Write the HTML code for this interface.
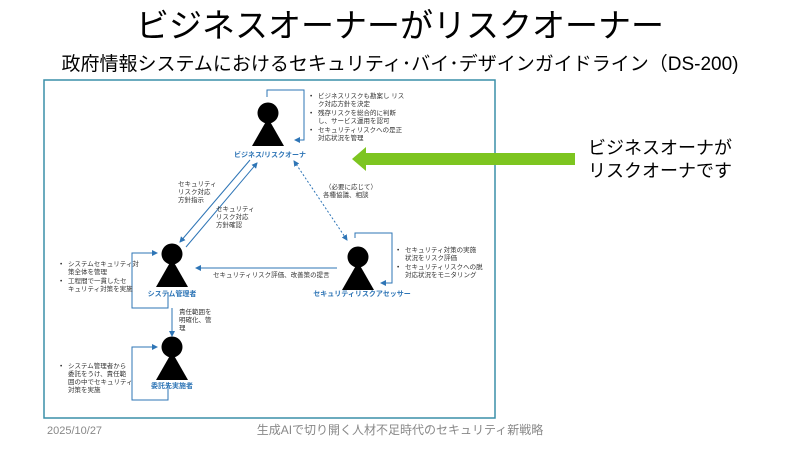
<!DOCTYPE html>
<html><head><meta charset="utf-8"><style>
html,body{margin:0;padding:0;background:#fff;width:800px;height:450px;overflow:hidden}
svg{display:block}
text{font-family:"Liberation Sans","Noto Sans CJK JP",sans-serif}
</style></head><body>
<svg width="800" height="450" viewBox="0 0 800 450" xmlns="http://www.w3.org/2000/svg">
<defs>
<marker id="a" markerWidth="6" markerHeight="6" refX="5" refY="3" orient="auto" markerUnits="userSpaceOnUse"><path d="M0,0 L6,3 L0,6 z" fill="#2e75b6"/></marker>
<marker id="as" markerWidth="6" markerHeight="6" refX="1" refY="3" orient="auto" markerUnits="userSpaceOnUse"><path d="M6,0 L0,3 L6,6 z" fill="#2e75b6"/></marker>
</defs>
<text x="400" y="37" font-size="33" text-anchor="middle" fill="#000">ビジネスオーナーがリスクオーナー</text>
<text x="400" y="70" font-size="19" text-anchor="middle" fill="#000">政府情報システムにおけるセキュリティ･バイ･デザインガイドライン（DS-200)</text>

<rect x="44" y="80" width="451" height="338" fill="#fff" stroke="#3a8fa8" stroke-width="1.5"/>

<g fill="#000">
<circle cx="268" cy="113" r="10.5"/><path d="M268,118 L284,146 L252,146 z"/>
<circle cx="172" cy="254" r="10.5"/><path d="M172,259 L188,287 L156,287 z"/>
<circle cx="358" cy="257" r="10.5"/><path d="M358,262 L374,290 L342,290 z"/>
<circle cx="172" cy="347" r="10.5"/><path d="M172,352 L188,380 L156,380 z"/>
</g>
<g font-size="7" font-weight="bold" fill="#2e75b6" text-anchor="middle">
<text x="270" y="157">ビジネス/リスクオーナ</text>
<text x="172" y="296">システム管理者</text>
<text x="362" y="296">セキュリティリスクアセッサー</text>
<text x="172" y="388">委託先実施者</text>
</g>

<g fill="none" stroke="#2e75b6" stroke-width="1">
<path d="M267,97 V90 H304 V140 H295" marker-end="url(#a)"/>
<path d="M168,292 V308 H132 V253 H157" marker-end="url(#a)"/>
<path d="M168,384 V400 H132 V347 H157" marker-end="url(#a)"/>
<path d="M355,238 V233 H392 V283 H381" marker-end="url(#a)"/>
<path d="M337,268 H196" marker-end="url(#a)"/>
<path d="M172,308 V336" marker-end="url(#a)"/>
<path d="M250,160 L180,242" marker-end="url(#a)"/>
<path d="M186,247 L257,163" marker-end="url(#a)"/>
<path d="M294,161 L347,240" stroke-dasharray="2,2" marker-end="url(#a)" marker-start="url(#as)"/>
</g>

<g font-size="6.5" fill="#333">
<text x="178" y="186">セキュリティ</text><text x="178" y="194">リスク対応</text><text x="178" y="202">方針指示</text>
<text x="216" y="211">セキュリティ</text><text x="216" y="219">リスク対応</text><text x="216" y="227">方針確認</text>
<text x="325" y="189">（必要に応じて）</text><text x="323" y="197">各種協議、相談</text>
<text x="213" y="277">セキュリティリスク評価、改善策の提言</text>
<text x="179" y="314">責任範囲を</text><text x="179" y="322">明確化、管</text><text x="179" y="330">理</text>
<g>
<text x="310" y="98">•</text><text x="318" y="98">ビジネスリスクも勘案し リス</text><text x="318" y="106">ク対応方針を決定</text>
<text x="310" y="115">•</text><text x="318" y="115">残存リスクを総合的に判断</text><text x="318" y="123">し、サービス運用を認可</text>
<text x="310" y="132">•</text><text x="318" y="132">セキュリティリスクへの是正</text><text x="318" y="140">対応状況を管理</text>
</g>
<g>
<text x="397" y="252">•</text><text x="405" y="252">セキュリティ対策の実施</text><text x="405" y="260">状況をリスク評価</text>
<text x="397" y="269">•</text><text x="405" y="269">セキュリティリスクへの脱</text><text x="405" y="277">対応状況をモニタリング</text>
</g>
<g>
<text x="60" y="266">•</text><text x="68" y="266">システムセキュリティ対</text><text x="68" y="274">策全体を管理</text>
<text x="60" y="283">•</text><text x="68" y="283">工程間で一貫したセ</text><text x="68" y="291">キュリティ対策を実施</text>
</g>
<g>
<text x="60" y="368">•</text><text x="68" y="368">システム管理者から</text><text x="68" y="376">委託をうけ、責任範</text><text x="68" y="384">囲の中でセキュリティ</text><text x="68" y="392">対策を実施</text>
</g>
</g>

<path d="M575,153 H366 V147 L352,159 L366,171 V165 H575 z" fill="#7dc520"/>
<text x="588" y="154" font-size="18" fill="#000">ビジネスオーナが</text>
<text x="588" y="177" font-size="18" fill="#000">リスクオーナです</text>

<text x="47" y="434" font-size="11" fill="#888">2025/10/27</text>
<text x="400" y="434" font-size="12" fill="#888" text-anchor="middle">生成AIで切り開く人材不足時代のセキュリティ新戦略</text>
</svg>
</body></html>
